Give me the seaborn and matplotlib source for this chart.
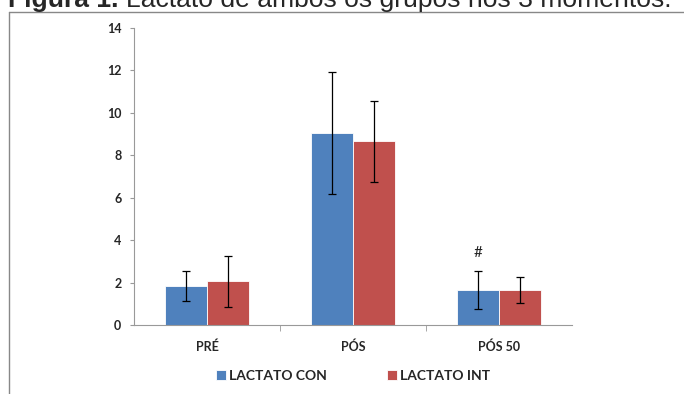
import matplotlib
matplotlib.use("Agg")
import matplotlib.pyplot as plt
from matplotlib.lines import Line2D
import pandas as pd
import seaborn as sns

momentos = ["PRÉ", "PÓS", "PÓS 50"]
grupos = ["LACTATO CON", "LACTATO INT"]
media_con = [1.84, 9.05, 1.65]
media_int = [2.07, 8.65, 1.65]
dp_con = [0.70, 2.87, 0.90]
dp_int = [1.20, 1.92, 0.60]
yticks = [0, 2, 4, 6, 8, 10, 12, 14]

cores = ["#4F81BD", "#C0504D"]

df = pd.DataFrame({
    "momento": momentos * 2,
    "grupo": [grupos[0]] * 3 + [grupos[1]] * 3,
    "lactato": media_con + media_int,
    "dp": dp_con + dp_int,
})

sns.set_style("white")
plt.rcParams["font.family"] = ["Lato", "DejaVu Sans"]

W, H = 684, 394
fig = plt.figure(figsize=(W / 100, H / 100), dpi=100)
ax = fig.add_axes([134 / W, 1 - 325 / H, 438 / W, 297 / H])

sns.barplot(data=df, x="momento", y="lactato", hue="grupo", order=momentos,
            hue_order=grupos, palette=cores, width=0.575, errorbar=None,
            saturation=1, ax=ax, edgecolor="white", linewidth=0.6)

# error bars at the bar centres
for bars, g in zip(ax.containers, grupos):
    sub = df[df.grupo == g].set_index("momento").loc[momentos]
    xs = [b.get_x() + b.get_width() / 2 for b in bars]
    ax.errorbar(xs, sub.lactato, yerr=sub.dp, fmt="none", ecolor="black",
                elinewidth=0.9, capsize=3, capthick=0.9, zorder=5)

# significance mark over PÓS 50 control bar
b = ax.containers[0][2]
ax.text(b.get_x() + b.get_width() / 2, 3.4, "#", ha="center", va="center",
        fontsize=11, color="#222222")

ax.set_ylim(0, 14)
ax.set_xlim(-0.5, 2.5)
ax.set_yticks(yticks)
ax.set_yticklabels([str(t) for t in yticks], fontweight="bold", fontsize=9)
ax.set_xticks(range(3))
ax.set_xticklabels(momentos, fontweight="bold", fontsize=9)
ax.set_xticks([0.5, 1.5], minor=True)
ax.set_xlabel("")
ax.set_ylabel("")
for s in ["top", "right"]:
    ax.spines[s].set_visible(False)
for s in ["left", "bottom"]:
    ax.spines[s].set_color("#999999")
    ax.spines[s].set_linewidth(0.8)
ax.tick_params(axis="y", left=True, length=3, color="#999999", pad=6)
ax.tick_params(axis="x", which="major", bottom=False, pad=8)
ax.tick_params(axis="x", which="minor", bottom=True, length=4, color="#999999")

ax.get_legend().remove()
h, l = ax.get_legend_handles_labels()
fig.legend(h, l, loc="center", bbox_to_anchor=(353 / W, 1 - 376 / H), ncol=2,
           frameon=False, handlelength=0.72, handleheight=0.72, columnspacing=4.3,
           handletextpad=0.25, borderaxespad=0, borderpad=0,
           prop={"weight": "bold", "size": 10})

# outer frame of the chart area
fig.add_artist(Line2D([9 / W, 9 / W], [0, 1 - 12 / H], color="#888888", lw=1))
fig.add_artist(Line2D([9 / W, 1], [1 - 12 / H, 1 - 12 / H], color="#888888", lw=1))

# caption, cut off at the top edge as in the original
r = fig.canvas.get_renderer()
fs = 16
t1 = fig.text(8 / W, 1 - 7 / H, "Figura 1. ", fontsize=fs, fontweight="bold",
              family="Liberation Sans", va="baseline")
t2 = fig.text(0, 1 - 7 / H, "Lactato de ambos os grupos nos 3 momentos.",
              fontsize=fs, family="Liberation Sans", va="baseline")
total = t1.get_window_extent(r).width + t2.get_window_extent(r).width
fs = fs * 662 / total
t1.set_fontsize(fs)
t2.set_fontsize(fs)
t2.set_x((8 + t1.get_window_extent(r).width) / W)

fig.savefig("out.png", dpi=100)
